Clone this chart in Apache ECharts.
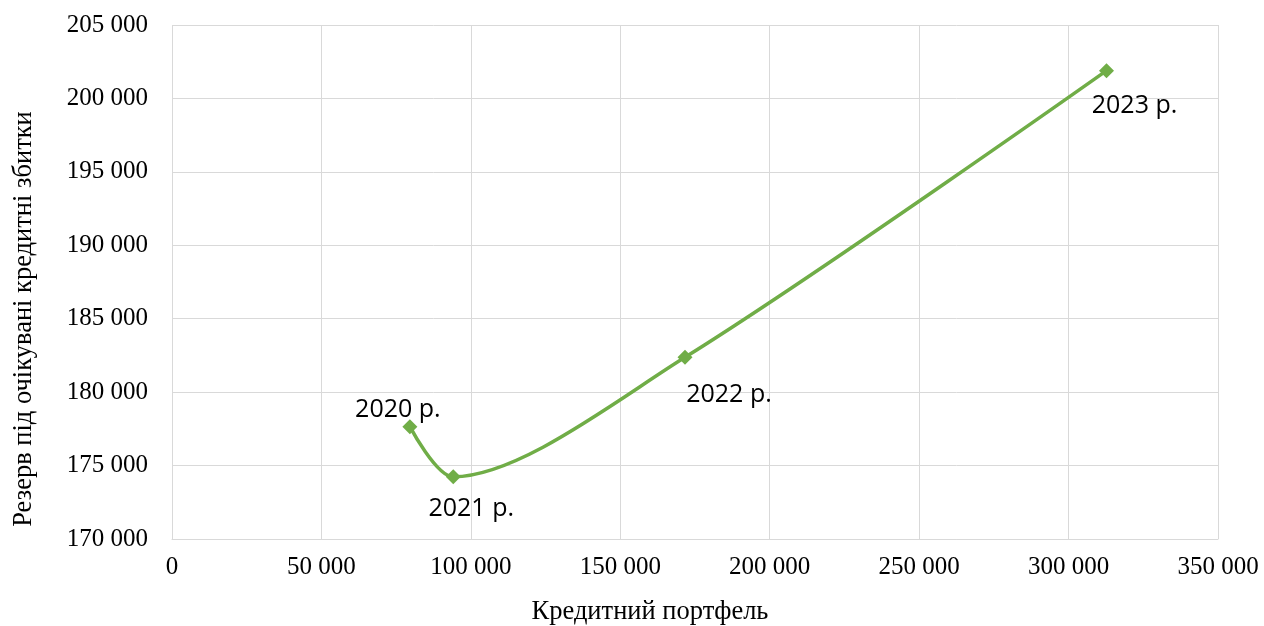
<!DOCTYPE html>
<html>
<head>
<meta charset="utf-8">
<script src="https://cdn.jsdelivr.net/npm/echarts@6/dist/echarts.min.js"></script>
<style>
  html, body { margin: 0; padding: 0; background: #fff; }
  #chart { width: 1264px; height: 626px; }
</style>
</head>
<body>
<div id="chart"></div>
<script>
// Loan portfolio vs. expected credit loss reserve, by year
const years = ['2020 р.', '2021 р.', '2022 р.', '2023 р.'];
const portfolio = [79600, 94100, 171650, 312700];
const reserve = [177650, 174240, 182370, 201890];

const xTitle = 'Кредитний портфель';
const yTitle = 'Резерв під очікувані кредитні збитки';

// label placement around each marker (px)
const labelOffsets = [[-12, -17], [18, 32], [44, 38], [28, 35]];

const fmt = v => String(v).replace(/\B(?=(\d{3})+(?!\d))/g, ' ');

const chart = echarts.init(document.getElementById('chart'), null, { renderer: 'canvas' });

const points = portfolio.map((x, i) => ({
  value: [x, reserve[i]],
  name: years[i],
  label: { offset: labelOffsets[i] }
}));

const titleFont = { fontFamily: 'Liberation Serif', fontSize: 26.5, fill: '#000' };

chart.setOption({
  animation: false,
  backgroundColor: '#ffffff',
  grid: { left: 172, right: 46, top: 25, bottom: 87, containLabel: false, outerBoundsMode: 'none' },
  xAxis: {
    type: 'value',
    min: 0, max: 350000, interval: 50000,
    axisLine: { show: true, lineStyle: { color: '#d9d9d9', width: 1 } },
    axisTick: { show: false },
    splitLine: { show: true, lineStyle: { color: '#d9d9d9', width: 1 } },
    axisLabel: {
      formatter: fmt, margin: 16,
      fontFamily: 'Liberation Serif', fontSize: 25, color: '#000'
    }
  },
  yAxis: {
    type: 'value',
    min: 170000, max: 205000, interval: 5000,
    axisLine: { show: false },
    axisTick: { show: false },
    splitLine: { show: true, lineStyle: { color: '#d9d9d9', width: 1 } },
    axisLabel: {
      formatter: fmt, margin: 24,
      fontFamily: 'Liberation Serif', fontSize: 25, color: '#000'
    }
  },
  graphic: [
    {
      type: 'text',
      x: 650, y: 612,
      style: Object.assign({ text: xTitle, textAlign: 'center', textVerticalAlign: 'middle' }, titleFont)
    },
    {
      type: 'text',
      x: 24, y: 319,
      rotation: Math.PI / 2,
      style: Object.assign({ text: yTitle, textAlign: 'center', textVerticalAlign: 'middle' }, titleFont)
    }
  ],
  series: [{
    type: 'line',
    data: points,
    smooth: 0.3,
    symbol: 'diamond',
    symbolSize: 15,
    lineStyle: { color: '#70ad47', width: 3.5 },
    itemStyle: { color: '#70ad47' },
    label: {
      show: true,
      position: 'inside',
      formatter: p => p.name,
      fontFamily: 'Open Sans', fontSize: 25, color: '#000'
    }
  }]
});
</script>
</body>
</html>
